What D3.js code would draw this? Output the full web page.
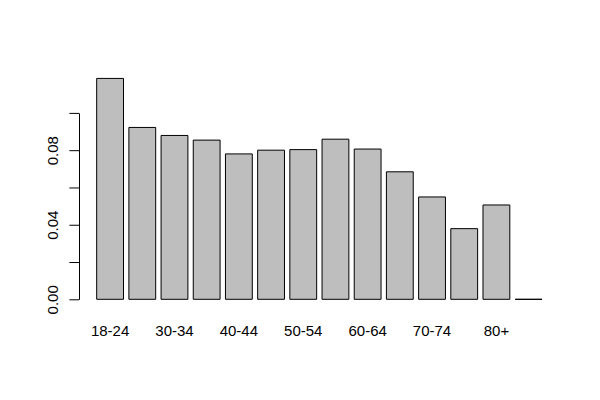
<!DOCTYPE html>
<html>
<head>
<meta charset="utf-8">
<script src="https://cdn.jsdelivr.net/npm/d3@7"></script>
<style>
  body { margin: 0; background: #fff; }
  svg text { font-family: "Liberation Sans", Arial, sans-serif; font-size: 15px; fill: #000; }
</style>
</head>
<body>
<svg id="chart" width="600" height="400"></svg>
<script>
// age group shares
const ageGroups = ["18-24", "25-29", "30-34", "35-39", "40-44", "45-49", "50-54",
                   "55-59", "60-64", "65-69", "70-74", "75-79", "80+", "NA"];
const shares = [0.1185, 0.0922, 0.0879, 0.0854, 0.0780, 0.0800, 0.0803,
                0.0859, 0.0806, 0.0684, 0.0549, 0.0379, 0.0506, 0];
const yTicks = [0, 0.02, 0.04, 0.06, 0.08, 0.10];
const yLabelled = [0, 0.04, 0.08];

const svg = d3.select("#chart");

let x = d3.scaleBand()
    .domain(ageGroups)
    .range([94.0, 544.7])
    .paddingInner(1 / 6)
    .paddingOuter(1 / 12);

let y = d3.scaleLinear()
    .domain([0, 0.10])
    .range([299.3, 112.9]);

// bars (path so the empty one still shows as a line)
svg.append("g")
  .selectAll("path")
  .data(ageGroups.map((g, i) => ({ group: g, value: shares[i] })))
  .join("path")
    .attr("d", d => {
        const x0 = x(d.group), w = x.bandwidth();
        const y0 = y(0), y1 = y(d.value);
        return "M" + x0 + "," + y0 + "H" + (x0 + w) + "V" + y1 + "H" + x0 + "Z";
    })
    .attr("fill", "#bebebe")
    .attr("stroke", "#000")
    .attr("stroke-width", 1);

// y axis
const yAxis = svg.append("g")
    .attr("transform", "translate(79,0)")
    .call(d3.axisLeft(y)
        .tickValues(yTicks)
        .tickSize(9.6)
        .tickSizeOuter(0)
        .tickFormat(d => yLabelled.includes(d) ? d3.format(".2f")(d) : ""));

yAxis.selectAll("path, line").attr("stroke", "#000");
yAxis.selectAll("text")
    .attr("x", null)
    .attr("dy", null)
    .attr("text-anchor", "middle")
    .attr("transform", "translate(-20.7,0) rotate(-90)")
    .style("font-family", "'Liberation Sans', Arial, sans-serif")
    .style("font-size", "15px");

// x labels, R drops every other one where they would overlap
const xAxis = svg.append("g")
    .attr("transform", "translate(0,299.3)")
    .call(d3.axisBottom(x)
        .tickSize(0)
        .tickFormat((d, i) => i % 2 === 0 ? d : ""));

xAxis.select(".domain").remove();
xAxis.selectAll("text")
    .attr("y", 37)
    .attr("dy", null)
    .style("font-family", "'Liberation Sans', Arial, sans-serif")
    .style("font-size", "15px");
</script>
</body>
</html>
